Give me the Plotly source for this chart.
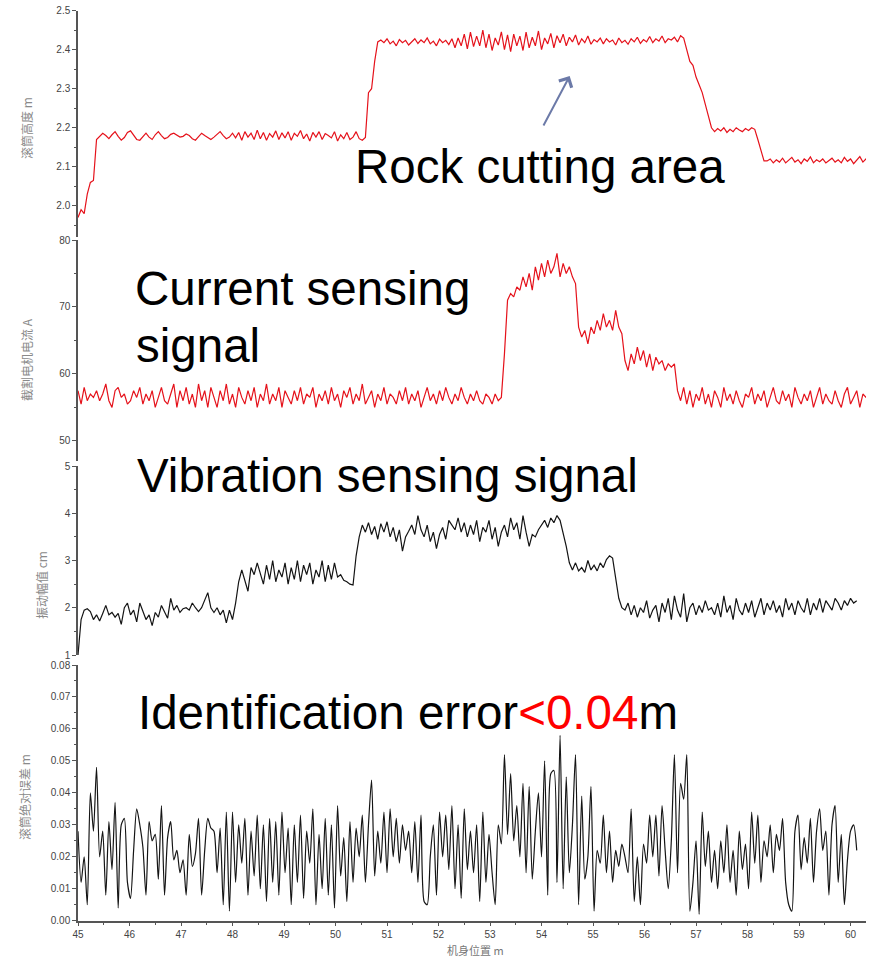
import numpy as np
import plotly.graph_objects as go

X0 = 45.0
STEP = 0.06

HEIGHT_M = [
    1.97, 1.99, 1.98, 2.03, 2.06, 2.065, 2.17,
    2.178, 2.186, 2.18, 2.172, 2.182, 2.19, 2.178, 2.168, 2.175, 2.188,
    2.192, 2.18, 2.17, 2.168, 2.178, 2.186, 2.176, 2.17, 2.182, 2.19,
    2.18, 2.172, 2.175, 2.183, 2.186, 2.18, 2.176, 2.178, 2.184, 2.18,
    2.172, 2.168, 2.178, 2.186, 2.18, 2.174, 2.17, 2.176, 2.184, 2.19,
    2.18, 2.172, 2.176, 2.186,
    2.174, 2.188, 2.168, 2.19, 2.176, 2.186,
    2.17, 2.194, 2.172, 2.188, 2.168, 2.185, 2.176, 2.192, 2.17, 2.187,
    2.174, 2.19, 2.168, 2.186, 2.178, 2.193, 2.172, 2.184, 2.166, 2.188,
    2.176, 2.19, 2.17, 2.185, 2.18, 2.174, 2.19, 2.166, 2.182, 2.172,
    2.188, 2.17, 2.176, 2.19, 2.172, 2.168, 2.175,
    2.29, 2.30, 2.37, 2.42,
    2.425, 2.418, 2.428, 2.415, 2.422, 2.41, 2.426, 2.418, 2.424, 2.412,
    2.42, 2.428, 2.416, 2.425, 2.418, 2.43, 2.415, 2.422, 2.41, 2.427,
    2.418, 2.424, 2.413, 2.428, 2.405, 2.43, 2.41, 2.44, 2.402, 2.445,
    2.408, 2.435, 2.41, 2.45, 2.405, 2.44, 2.398, 2.43, 2.412, 2.446,
    2.40, 2.438, 2.395, 2.44, 2.41, 2.435, 2.398, 2.445, 2.405, 2.432,
    2.41, 2.448, 2.40, 2.43, 2.415, 2.442, 2.405, 2.436, 2.418, 2.44,
    2.41, 2.432, 2.42, 2.438, 2.412, 2.428, 2.418, 2.435, 2.414, 2.426,
    2.42, 2.43, 2.415, 2.428, 2.42, 2.425, 2.412, 2.43, 2.418, 2.424,
    2.414, 2.428, 2.42, 2.432, 2.416, 2.426, 2.42, 2.434, 2.418, 2.428,
    2.422, 2.435, 2.418, 2.428, 2.425, 2.432, 2.42, 2.436, 2.43,
    2.40, 2.37, 2.36, 2.33, 2.31, 2.29, 2.26, 2.23, 2.20,
    2.19, 2.198, 2.192, 2.2, 2.188, 2.196, 2.19, 2.2, 2.194, 2.19, 2.198, 2.193, 2.2, 2.196,
    2.17, 2.14, 2.115,
    2.115, 2.12, 2.11, 2.118, 2.112, 2.122, 2.11, 2.116, 2.124, 2.112,
    2.118, 2.108, 2.12, 2.114, 2.125, 2.11, 2.118, 2.113, 2.12, 2.11,
    2.116, 2.122, 2.112, 2.118, 2.11, 2.124, 2.114, 2.12, 2.108, 2.118,
    2.126, 2.112, 2.12, 2.11,
]

CURRENT_A = [
    57.5, 55.5, 58, 56, 57, 56.5, 57.5, 56, 57, 58.5,
    56, 55, 57.5, 58, 56.5, 57, 55.5, 56, 57.5, 56.5,
    58, 55.5, 57, 56, 57.5, 55, 56.5, 58, 56, 55.5,
    57, 58.5, 55, 57.5, 56, 58, 55.5, 57, 55, 58.5,
    56, 57.5, 55, 58, 56.5, 55, 57.5, 56, 58.5, 55.5,
    57, 55, 58, 56.5, 55.5, 57.5, 56, 58, 55, 57,
    56, 58.5, 55.5, 57, 56, 58, 55, 57.5, 56.5, 55.5,
    57.5, 56, 58, 55.5, 57, 56.5, 58, 55, 57, 56,
    57.5, 55.5, 58, 56, 57, 55, 57.5, 56.5, 58, 55.5,
    57, 56, 58.5, 55.5, 56.5, 57.5, 55, 57, 56, 58,
    55.5, 57, 56.5, 55.5, 57.5, 56, 58, 55.5, 57, 56,
    57.5, 55, 56.5, 58, 56, 57, 55.5, 57.5, 56, 58,
    56.5, 55.5, 57, 56, 58, 56.5, 55.5, 57, 56, 57.5,
    56, 55.5, 57, 56.5, 55.5, 57, 56, 56.5,
    63, 71, 72, 71.5, 73, 72.5, 74.5, 73, 75, 72.5, 76, 74,
    76.5, 74.5, 77, 75, 76, 78, 74.5, 76.5, 75, 76, 74.5, 73.5,
    67, 65.5, 66.5, 64.5, 67, 66, 68, 66.5, 69, 67, 68, 66.5, 69.5, 67, 66,
    62, 60.5, 63, 61.5, 64, 62, 63.5, 61, 63, 60.5, 62.5, 61.5, 62, 60.5, 61.5, 61, 61.5,
    57.5,
    56, 58, 55.5, 57.5, 55, 57, 56, 58, 55.5, 57,
    55, 57.5, 56.5, 55, 58, 56, 57, 55.5, 57.5, 56,
    55, 57, 56.5, 58, 55.5, 57, 56, 57.5, 55, 56.5,
    58, 56, 55.5, 57.5, 56, 57, 55, 58, 56.5, 55.5,
    57, 56, 57.5, 55, 56.5, 58, 55.5, 57, 56, 55.5,
    57.5, 56, 55, 57, 58, 55.5, 56.5, 57.5, 55, 57,
    56.5, 57.5,
]

VIBRATION_CM = [
    1.0, 1.75, 1.95,
    1.98, 1.92, 1.75, 1.85, 1.72, 1.88, 2.05, 1.85, 1.9, 1.8,
    1.88, 1.65, 2.0, 2.1, 1.85, 1.95, 1.7, 2.1, 1.9, 1.75,
    1.85, 1.62, 1.9, 1.8, 2.05, 1.92, 1.78, 2.2, 1.95, 2.05,
    1.9, 1.98, 2.0, 1.95, 2.1, 2.0, 1.92, 2.0, 2.15, 2.32,
    2.0, 1.9, 2.0, 1.85, 1.95, 1.68, 1.95, 1.75,
    2.1, 2.55, 2.8,
    2.6, 2.35, 2.85, 2.7, 2.95, 2.75, 2.5, 2.9, 2.6, 3.0,
    2.55, 2.8, 2.65, 2.95, 2.5, 2.85, 2.6, 3.0, 2.55, 2.9,
    2.7, 2.95, 2.5, 2.8, 2.65, 3.0, 2.55, 2.9, 2.6, 2.95,
    2.65, 2.7, 2.58, 2.55,
    2.5, 2.48, 3.1, 3.5,
    3.75, 3.6, 3.8, 3.55, 3.72, 3.45, 3.78, 3.6, 3.82, 3.5,
    3.7, 3.4, 3.65, 3.2, 3.5, 3.62, 3.75, 3.55, 3.95, 3.65,
    3.5, 3.75, 3.4, 3.6, 3.25, 3.55, 3.7, 3.45, 3.85, 3.75,
    3.65, 3.9, 3.6, 3.8, 3.5, 3.75, 3.55, 3.85, 3.4, 3.7,
    3.6, 3.85, 3.45, 3.7, 3.3, 3.6, 3.75, 3.5, 3.9, 3.65,
    3.8, 3.45, 3.95, 3.6, 3.3, 3.55, 3.5, 3.65, 3.75, 3.85,
    3.7, 3.9, 3.8, 3.95, 3.85, 3.6,
    3.3, 2.95,
    2.8, 2.95, 2.78, 2.85, 2.75, 3.0, 2.8, 2.9, 2.78, 2.95, 2.85, 3.02, 3.1, 3.05,
    2.6, 2.2, 2.0,
    1.95, 2.1, 1.85, 2.05, 1.8, 2.0, 1.9, 2.15, 1.78, 1.95,
    2.05, 1.7, 2.1, 1.9, 2.2, 1.75, 2.25, 1.95, 1.8, 2.3,
    1.7, 2.0, 2.1, 1.85, 2.05, 1.9, 2.15, 1.95, 2.0, 1.85,
    2.1, 1.8, 2.25, 1.9, 2.05, 1.75, 2.2, 1.95, 1.85, 2.1,
    1.9, 2.15, 1.8, 2.0, 2.2, 1.85, 2.1, 1.95, 2.15, 1.9,
    2.05, 1.8, 2.2, 1.95, 2.1, 1.85, 2.15, 2.0, 1.9, 2.2,
    1.85, 2.1, 1.95, 2.2, 1.9, 2.15, 2.05, 1.95, 2.2, 2.1,
    1.95, 2.15, 2.05, 2.2, 2.1, 2.15,
]

ERROR_M = [
    0.028, 0.012, 0.02, 0.005, 0.04, 0.028, 0.048, 0.02, 0.028, 0.008,
    0.031, 0.016, 0.037, 0.004, 0.03, 0.032, 0.012, 0.007, 0.022, 0.035,
    0.03, 0.023, 0.008, 0.031, 0.025, 0.027, 0.013, 0.036, 0.008, 0.026,
    0.031, 0.019, 0.022, 0.015, 0.019, 0.008, 0.027, 0.017, 0.021, 0.032,
    0.008, 0.022, 0.032, 0.029, 0.028, 0.015, 0.029, 0.005, 0.034, 0.003,
    0.034, 0.012, 0.03, 0.018, 0.032, 0.008, 0.028, 0.014, 0.033, 0.01,
    0.03, 0.006, 0.032, 0.012, 0.031, 0.008, 0.034, 0.015, 0.029, 0.005,
    0.03, 0.012, 0.033, 0.007, 0.028, 0.018, 0.035, 0.005, 0.027, 0.01,
    0.032, 0.008, 0.03, 0.004, 0.036, 0.014, 0.026, 0.006, 0.031, 0.012,
    0.029, 0.02, 0.033, 0.012, 0.03, 0.044, 0.014, 0.028, 0.018, 0.034,
    0.015, 0.035, 0.02, 0.032, 0.018, 0.03, 0.022, 0.028, 0.015, 0.031,
    0.012, 0.033, 0.006, 0.005, 0.02, 0.03, 0.008, 0.034, 0.02, 0.033,
    0.016, 0.036, 0.01, 0.03, 0.007, 0.035, 0.016, 0.028, 0.015, 0.03,
    0.006, 0.034, 0.012, 0.027, 0.015, 0.005, 0.03, 0.024, 0.052, 0.027,
    0.046, 0.025, 0.036, 0.02, 0.043, 0.015, 0.042, 0.013, 0.028, 0.04,
    0.02, 0.05, 0.008, 0.046, 0.047, 0.012, 0.058, 0.01, 0.045, 0.015,
    0.03, 0.052, 0.005, 0.039, 0.013, 0.02, 0.042, 0.003, 0.022, 0.018,
    0.033, 0.015, 0.028, 0.012, 0.022, 0.017, 0.024, 0.02, 0.015, 0.035,
    0.006, 0.02, 0.005, 0.024, 0.018, 0.033, 0.02, 0.033, 0.014, 0.036,
    0.022, 0.01, 0.025, 0.052, 0.015, 0.043, 0.038, 0.052, 0.003, 0.012,
    0.025, 0.002, 0.034, 0.017, 0.028, 0.012, 0.022, 0.01, 0.025, 0.015,
    0.03, 0.012, 0.022, 0.008, 0.028, 0.016, 0.024, 0.01, 0.034, 0.018,
    0.033, 0.012, 0.025, 0.02, 0.03, 0.015, 0.027, 0.022, 0.032, 0.012,
    0.005, 0.003, 0.028, 0.033, 0.016, 0.026, 0.018, 0.032, 0.012, 0.028,
    0.035, 0.022, 0.028, 0.008, 0.03, 0.036, 0.012, 0.027, 0.005, 0.019,
    0.028, 0.03, 0.022,
]

Y_TITLES = ["滚筒高度 m", "截割电机电流 A", "振动幅值 cm", "滚筒绝对误差 m"]
X_TITLE = "机身位置 m"
NOTES = ["Rock cutting area", "Current sensing", "signal", "Vibration sensing signal"]


def xs(vals):
    return X0 + STEP * np.arange(len(vals))


W, H = 877, 957
ML, MR = 78, 10.5
PW = W - ML - MR


def pxx(p):
    return (p - ML) / PW


def pxy(p):
    return 1 - p / H


PANELS = [(10.7, 237.0), (240.0, 461.0), (466.0, 655.0), (665.0, 920.7)]
RANGES = [[1.92, 2.5], [47, 80], [1, 5], [0, 0.08]]
DTICKS = [0.1, 10, 1, 0.01]
FORMATS = [".1f", "d", "d", ".2f"]

RED = "#e5121b"
BLACK = "#141414"
AXC = "#555555"
TICKFONT = dict(family="Liberation Sans, Arial", size=10, color="#444444")

fig = go.Figure()
series = [(HEIGHT_M, RED, "y", "linear"), (CURRENT_A, RED, "y2", "linear"),
          (VIBRATION_CM, BLACK, "y3", "linear"), (ERROR_M, BLACK, "y4", "spline")]
for vals, col, ya, shape in series:
    fig.add_trace(go.Scatter(x=xs(vals), y=vals, mode="lines", xaxis="x", yaxis=ya,
                             line=dict(color=col, width=1.2, shape=shape, smoothing=0.7),
                             showlegend=False, hoverinfo="skip"))

layout = dict(
    width=W, height=H, margin=dict(l=ML, r=MR, t=0, b=0),
    paper_bgcolor="white", plot_bgcolor="white", showlegend=False,
    xaxis=dict(domain=[0, 1], range=[45, 60.3], anchor="y4", showline=True, linecolor=AXC,
               linewidth=1.5, ticks="outside", ticklen=4, tickcolor=AXC, tickwidth=1,
               tick0=45, dtick=1, tickfont=TICKFONT, showgrid=False, zeroline=False,
               minor=dict(dtick=0.5, ticks="outside", ticklen=2.5, tickcolor=AXC),
               automargin=False),
)
for k in range(4):
    top, bot = PANELS[k]
    name = "yaxis" if k == 0 else f"yaxis{k + 1}"
    layout[name] = dict(domain=[pxy(bot), pxy(top)], range=RANGES[k], anchor="x",
                        showline=True, linecolor=AXC, linewidth=1.5, ticks="outside",
                        ticklen=4, tickcolor=AXC, tickwidth=1, dtick=DTICKS[k],
                        tickformat=FORMATS[k], tickfont=TICKFONT, showgrid=False,
                        zeroline=False, automargin=False,
                        minor=dict(dtick=DTICKS[k] / 2, ticks="outside", ticklen=2.5,
                                   tickcolor=AXC))
fig.update_layout(**layout)

BIG = dict(family="Liberation Sans, Arial", size=47.5, color="black")
ann = []
title_pos = [(27, 128), (27, 360), (41, 585), (24, 797)]
for t, (px, py) in zip(Y_TITLES, title_pos):
    ann.append(dict(text=t, x=pxx(px), y=pxy(py), xref="paper", yref="paper",
                    showarrow=False, textangle=-90, xanchor="center", yanchor="middle",
                    font=dict(family="Noto Sans CJK SC", size=12, color="#8a8a8a")))
ann.append(dict(text=X_TITLE, x=pxx(476), y=pxy(950), xref="paper", yref="paper",
                showarrow=False, xanchor="center", yanchor="middle", borderpad=0,
                font=dict(family="Noto Sans CJK SC", size=11, color="#777777")))
note_pos = [(353.5, 166.5), (133, 288.5), (134, 345.5), (135.5, 475.5)]
for t, (px, py) in zip(NOTES, note_pos):
    ann.append(dict(text=t, x=pxx(px), y=pxy(py), xref="paper", yref="paper",
                    showarrow=False, xanchor="left", yanchor="middle", font=BIG))
ann.append(dict(text='Identification error<span style="color:#ff0000">&lt;0.04</span>m',
                x=pxx(136), y=pxy(712.5), xref="paper", yref="paper", showarrow=False,
                xanchor="left", yanchor="middle", font=BIG))
ann.append(dict(text="", x=pxx(570), y=pxy(76), xref="paper", yref="paper",
                showarrow=True, ax=-27, ay=51, arrowhead=4, arrowsize=1.4,
                arrowwidth=2, arrowcolor="#6c7aa8", standoff=0))
fig.update_layout(annotations=ann)

fig.write_html("out.html")
